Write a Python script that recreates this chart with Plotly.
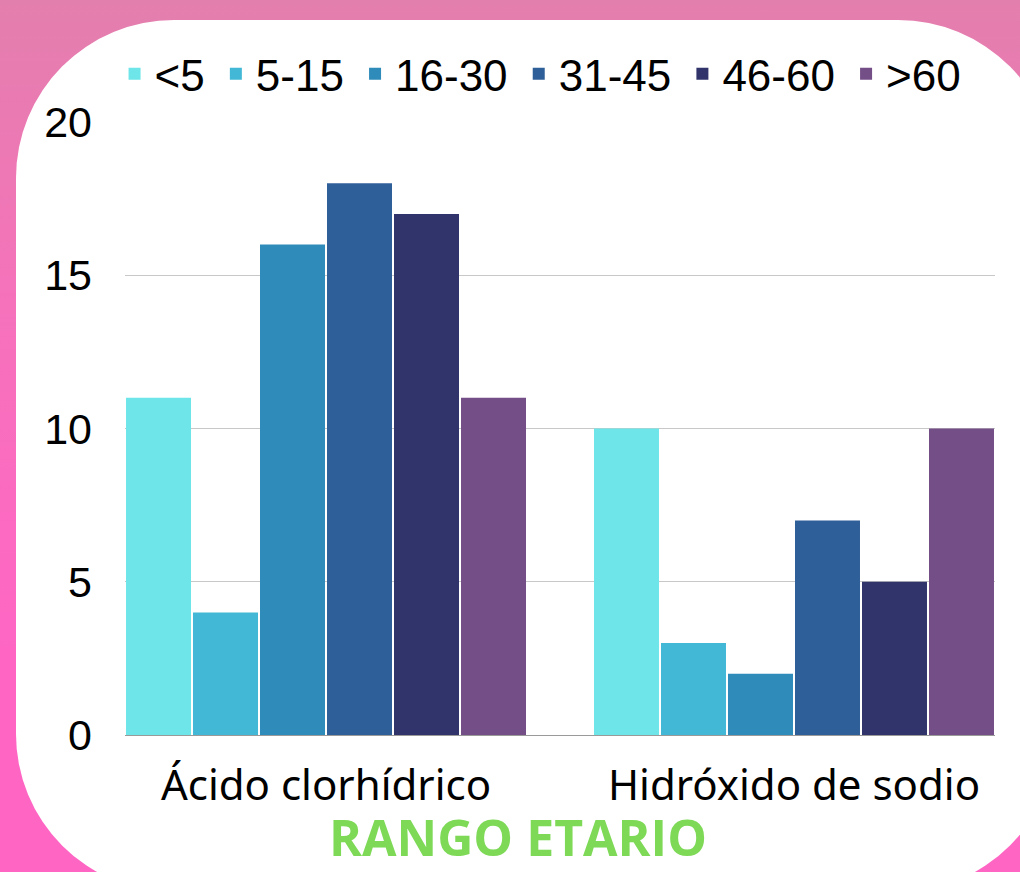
import base64
import plotly.graph_objects as go

categories = ["Ácido clorhídrico", "Hidróxido de sodio"]
series_names = ["<5", "5-15", "16-30", "31-45", "46-60", ">60"]
values_lt5 = [11, 10]
values_5_15 = [4, 3]
values_16_30 = [16, 2]
values_31_45 = [18, 7]
values_46_60 = [17, 5]
values_gt60 = [11, 10]
series_values = [values_lt5, values_5_15, values_16_30, values_31_45, values_46_60, values_gt60]
colors = ["#6ee6e9", "#42b8d6", "#2e8bba", "#2f5f98", "#30346b", "#744e87"]
y_ticks = [0, 5, 10, 15, 20]

W, H = 1020, 872
L, R, T, B = 125, 25, 122, 137
PW, PH = W - L - R, H - T - B

svg = f'''<svg xmlns="http://www.w3.org/2000/svg" width="{W}" height="{H}" viewBox="0 0 {W} {H}">
<defs><linearGradient id="g" x1="0" y1="0" x2="0" y2="1">
<stop offset="0" stop-color="#e37fad"/><stop offset="0.35" stop-color="#f672bb"/><stop offset="0.75" stop-color="#ff66c4"/><stop offset="1" stop-color="#ff66c4"/>
</linearGradient></defs>
<rect x="0" y="0" width="{W}" height="{H}" fill="url(#g)"/>
<rect x="16" y="20" width="1040" height="872" rx="158" ry="158" fill="#ffffff"/>
</svg>'''
src = "data:image/svg+xml;base64," + base64.b64encode(svg.encode()).decode()

spacer = '<span style="font-size:22px">\u00a0</span>'

fig = go.Figure()
for name, vals, col in zip(series_names, series_values, colors):
    fig.add_trace(go.Bar(name=name + spacer, x=categories, y=vals,
                         marker=dict(color=col, line=dict(width=0))))

w = 0.859
fig.update_layout(
    width=W, height=H,
    margin=dict(l=L, r=R, t=T, b=B, pad=0),
    paper_bgcolor="#ff66c4",
    plot_bgcolor="rgba(0,0,0,0)",
    barmode="group",
    bargap=1 - w,
    bargroupgap=0.03,
    font=dict(family="Liberation Sans, Arial, sans-serif", color="#000000"),
    images=[dict(source=src, xref="paper", yref="paper",
                 x=-L / PW, y=1 + T / PH, sizex=W / PW, sizey=H / PH,
                 xanchor="left", yanchor="top", sizing="stretch", layer="below")],
    legend=dict(orientation="h", x=-0.012, xanchor="left", y=1.078, yanchor="middle",
                font=dict(size=44, family="Liberation Sans, Arial, sans-serif"),
                bgcolor="rgba(0,0,0,0)", traceorder="normal", itemwidth=30),
    xaxis=dict(range=[-w / 2, 1 + w / 2], showgrid=False, showline=True, linecolor="#9a9a9a",
               linewidth=1, ticks="", tickfont=dict(size=42, family="Noto Sans, sans-serif"),
               ticklabelstandoff=14, zeroline=False),
    yaxis=dict(range=[0, 20], tickvals=y_ticks, showgrid=True, gridcolor="#c8c8c8", gridwidth=1,
               showline=False, zeroline=False, ticks="",
               tickfont=dict(size=43, family="Liberation Sans, Arial, sans-serif"),
               ticklabelstandoff=32),
    annotations=[dict(text="<b>RANGO ETARIO</b>", xref="paper", yref="paper", x=0.452, y=-0.166,
                      xanchor="center", yanchor="middle", showarrow=False,
                      font=dict(size=50, color="#7ed957", family="Open Sans, sans-serif", weight=800))],
)
fig.write_html("out.html", config={"displayModeBar": False},
               post_script="document.body.style.margin='0';document.body.style.padding='0';document.body.style.overflow='hidden';")
